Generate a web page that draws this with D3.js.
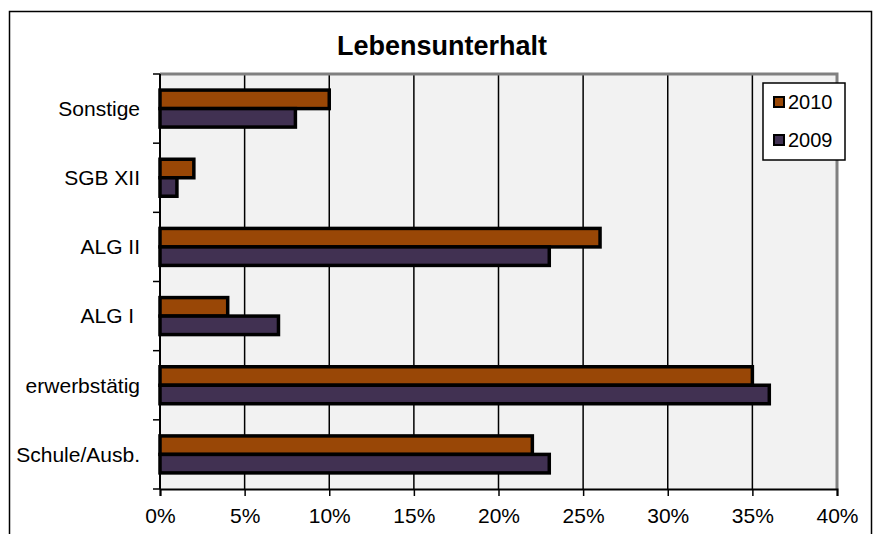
<!DOCTYPE html>
<html>
<head>
<meta charset="utf-8">
<script src="https://cdn.jsdelivr.net/npm/d3@7"></script>
<style>
  body { margin: 0; background: #fff; }
  svg { display: block; font-family: "Liberation Sans", Arial, sans-serif; }
</style>
</head>
<body>
<svg id="chart"></svg>
<script>
// data
const categories = ["Sonstige", "SGB XII", "ALG II", "ALG I ", "erwerbstätig", "Schule/Ausb."];
const series = ["2010", "2009"];
const values2010 = [10, 2, 26, 4, 35, 22];
const values2009 = [8, 1, 23, 7, 36, 23];
const xTicks = [0, 5, 10, 15, 20, 25, 30, 35, 40];
const colors = { "2010": "#994706", "2009": "#413152" };

const width = 877, height = 534;
const margin = { left: 160, right: 40, top: 74, bottom: 45 };

const svg = d3.select("#chart").attr("width", width).attr("height", height);

// outer frame (bottom runs off the picture)
svg.append("rect")
  .attr("x", 9.5).attr("y", 11.5)
  .attr("width", 862).attr("height", 540)
  .attr("fill", "#fff").attr("stroke", "#000").attr("stroke-width", 1.5);

const x = d3.scaleLinear().domain([0, 40]).range([margin.left, width - margin.right]);
const y = d3.scaleBand().domain(categories).range([margin.top, height - margin.bottom]);
const yInner = d3.scaleBand().domain(series).range([0, y.bandwidth()]).paddingOuter(0.87);

// plot background
svg.append("rect")
  .attr("x", x(0)).attr("y", margin.top)
  .attr("width", x(40) - x(0)).attr("height", height - margin.bottom - margin.top)
  .attr("fill", "#f2f2f2");

// vertical gridlines
svg.append("g")
  .selectAll("line")
  .data(xTicks.slice(1, -1))
  .enter()
  .append("line")
  .attr("x1", (d) => x(d)).attr("x2", (d) => x(d))
  .attr("y1", margin.top).attr("y2", height - margin.bottom)
  .attr("stroke", "#000").attr("stroke-width", 1.5);

// gray top / right border of plot area
svg.append("path")
  .attr("d", `M${x(0)},${margin.top}H${x(40)}V${height - margin.bottom}`)
  .attr("fill", "none").attr("stroke", "#808080").attr("stroke-width", 3);

// bars
const rows = categories.map((c, i) => ({ cat: c, vals: [values2010[i], values2009[i]] }));
svg.append("g")
  .selectAll("g")
  .data(rows)
  .enter()
  .append("g")
  .attr("transform", (d) => `translate(0,${y(d.cat)})`)
  .selectAll("rect")
  .data((d) => series.map((s, j) => ({ s, v: d.vals[j] })))
  .enter()
  .append("rect")
  .attr("x", x(0))
  .attr("y", (d) => yInner(d.s))
  .attr("width", (d) => x(d.v) - x(0))
  .attr("height", yInner.bandwidth())
  .attr("fill", (d) => colors[d.s])
  .attr("stroke", "#000").attr("stroke-width", 3.5);

// x axis
const xAxis = svg.append("g")
  .attr("transform", `translate(0,${height - margin.bottom})`)
  .call(d3.axisBottom(x).tickValues(xTicks).tickFormat((d) => d + "%").tickSize(7).tickPadding(12));
xAxis.select(".domain").attr("stroke", "#000").attr("stroke-width", 2);
xAxis.selectAll(".tick line").attr("stroke", "#000").attr("stroke-width", 1.5);
xAxis.selectAll("text").attr("font-size", 21).attr("fill", "#000").attr("font-family", "Liberation Sans, Arial, sans-serif");

// y axis: ticks at category boundaries
const yAxis = svg.append("g").attr("transform", `translate(${x(0)},0)`);
yAxis.append("line")
  .attr("x1", 0).attr("x2", 0)
  .attr("y1", margin.top).attr("y2", height - margin.bottom)
  .attr("stroke", "#000").attr("stroke-width", 2);
const bounds = categories.map((c) => y(c)).concat([y(categories[categories.length - 1]) + y.bandwidth()]);
yAxis.selectAll(".bt")
  .data(bounds)
  .enter()
  .append("line")
  .attr("x1", -7).attr("x2", 0)
  .attr("y1", (d) => d).attr("y2", (d) => d)
  .attr("stroke", "#000").attr("stroke-width", 1.5);
yAxis.selectAll("text")
  .data(categories)
  .enter()
  .append("text")
  .attr("x", -20)
  .attr("y", (d) => y(d) + y.bandwidth() / 2)
  .attr("dy", "0.35em")
  .attr("text-anchor", "end")
  .attr("font-size", 21)
  .style("white-space", "pre")
  .text((d) => d);

// title
svg.append("text")
  .attr("x", 442).attr("y", 55)
  .attr("text-anchor", "middle")
  .attr("font-size", 27).attr("font-weight", "bold")
  .text("Lebensunterhalt");

// legend
const legend = svg.append("g").attr("transform", "translate(763,83)");
legend.append("rect")
  .attr("width", 82).attr("height", 77)
  .attr("fill", "#fff").attr("stroke", "#000").attr("stroke-width", 1.5);
const li = legend.selectAll("g.item")
  .data(series)
  .enter()
  .append("g")
  .attr("transform", (d, i) => `translate(11,${19 + i * 38})`);
li.append("rect")
  .attr("x", 0).attr("y", -5)
  .attr("width", 10).attr("height", 10)
  .attr("fill", (d) => colors[d])
  .attr("stroke", "#000").attr("stroke-width", 2);
li.append("text")
  .attr("x", 14).attr("dy", "0.35em")
  .attr("font-size", 20)
  .text((d) => d);
</script>
</body>
</html>
